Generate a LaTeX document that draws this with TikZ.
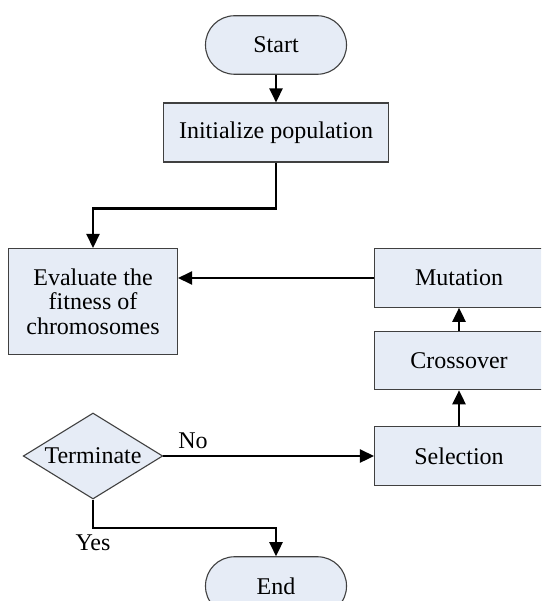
\documentclass[tikz,border=0pt]{standalone}
\usepackage{fontspec}
\setmainfont{Liberation Serif}
\newfontfamily\tnr{Liberation Serif}
\usetikzlibrary{shapes.geometric,arrows.meta}
\definecolor{boxfill}{HTML}{E6ECF6}
\definecolor{boxline}{HTML}{404040}
\tikzset{
  base/.style={draw=boxline, fill=boxfill, line width=1.1pt, inner sep=0pt,
    font=\tnr\fontsize{24}{24.5}\selectfont, align=center},
  boxnode/.style={base, rectangle, minimum width=169pt, minimum height=58.5pt},
  termnode/.style={base, rectangle, rounded corners=29pt, minimum width=141pt, minimum height=58.5pt},
  decnode/.style={base, diamond, aspect=1.62, minimum width=139.5pt, minimum height=86pt},
  arr/.style={line width=2.6pt, -{Triangle[length=14pt,width=13pt]}},
  lbl/.style={font=\tnr\fontsize{24}{24.5}\selectfont, inner sep=0pt}
}
\begin{document}
\begin{tikzpicture}[x=1pt,y=-1pt]
\useasboundingbox (0,0) rectangle (541,601);
\clip (0,0) rectangle (541,601);
\node[termnode] (start) at (276,45) {Start};
\node[boxnode, minimum width=225pt, minimum height=59pt] (init) at (276,132.5) {Initialize population};
\node[boxnode, minimum height=106pt] (eval) at (93,301.5) {Evaluate the\\fitness of\\chromosomes};
\node[boxnode] (mut) at (459,278) {Mutation};
\node[boxnode] (cross) at (459,360.5) {Crossover};
\node[boxnode] (sel) at (459,456) {Selection};
\node[decnode] (term) at (93,456) {Terminate};
\node[termnode] (end) at (276,586) {End};
\node[lbl] (no) at (193,441) {No};
\node[lbl] (yes) at (93,543) {Yes};
\draw[arr] (start.south) -- (init.north);
\draw[arr] (init.south) -- ++(0,46) -| (eval.north);
\draw[arr] (mut.west) -- (mut.west -| eval.east);
\draw[arr] (sel.north) -- (cross.south);
\draw[arr] (cross.north) -- (mut.south);
\draw[arr] (term.east) -- (sel.west);
\draw[arr] (term.south) -- ++(0,28.4) -| (end.north);
\end{tikzpicture}
\end{document}
